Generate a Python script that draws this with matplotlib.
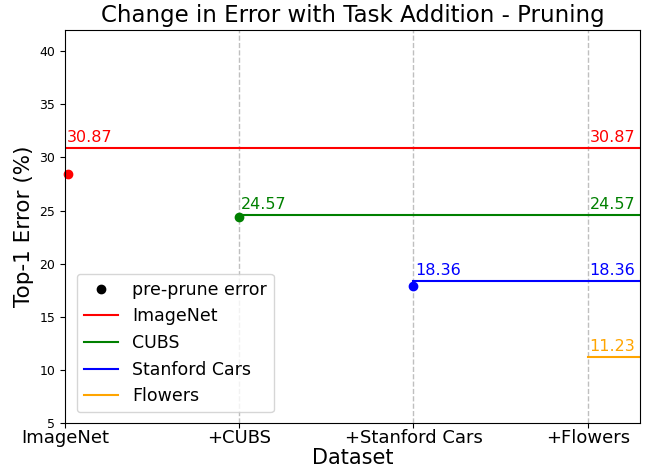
import matplotlib
matplotlib.use("Agg")
import matplotlib.pyplot as plt
from matplotlib.lines import Line2D

datasets = ["ImageNet", "+CUBS", "+Stanford Cars", "+Flowers"]
series_names = ["ImageNet", "CUBS", "Stanford Cars", "Flowers"]
post_prune_error = [30.87, 24.57, 18.36, 11.23]
pre_prune_error = [28.43, 24.44, 17.94]
pre_prune_x = [0.02, 1, 2]
colors = ["red", "green", "blue", "orange"]

fig = plt.figure(figsize=(6.45, 4.69), dpi=100)
ax = fig.add_axes([65/645, 1-423/469, (640-65)/645, (423-30)/469])

x_end = 3.3
for i, (name, val, c) in enumerate(zip(series_names, post_prune_error, colors)):
    ax.plot([i, x_end], [val, val], color=c, lw=1.5, label=name)
    ax.text(i + 0.01, val + 0.3, f"{val:.2f}", color=c, fontsize=11.5, ha="left", va="bottom")
    if i < 3:
        ax.text(3 + 0.01, val + 0.3, f"{val:.2f}", color=c, fontsize=11.5, ha="left", va="bottom")

for x, v, c in zip(pre_prune_x, pre_prune_error, colors):
    ax.plot(x, v, "o", color=c, ms=6, clip_on=False)

for x in [1, 2, 3]:
    ax.axvline(x, color="0.75", ls="--", lw=1, zorder=0)

ax.set_xlim(0, x_end)
ax.set_ylim(5, 42)
ax.set_xticks(range(len(datasets)))
ax.set_xticklabels(datasets, fontsize=13)
ax.tick_params(axis="x", pad=0.5)
ax.set_yticks(range(5, 41, 5))
ax.tick_params(axis="y", labelsize=9)
ax.set_xlabel("Dataset", fontsize=15, labelpad=1)
ax.set_ylabel("Top-1 Error (%)", fontsize=15.5)
ax.set_title("Change in Error with Task Addition - Pruning", fontsize=16.5)

handles = [Line2D([], [], marker="o", ls="", color="black", ms=6, label="pre-prune error")]
h, l = ax.get_legend_handles_labels()
handles += h
ax.legend(handles=handles, loc="lower left", fontsize=12.5, bbox_to_anchor=(0.005, 0.005))

fig.savefig("out.png", dpi=100)
